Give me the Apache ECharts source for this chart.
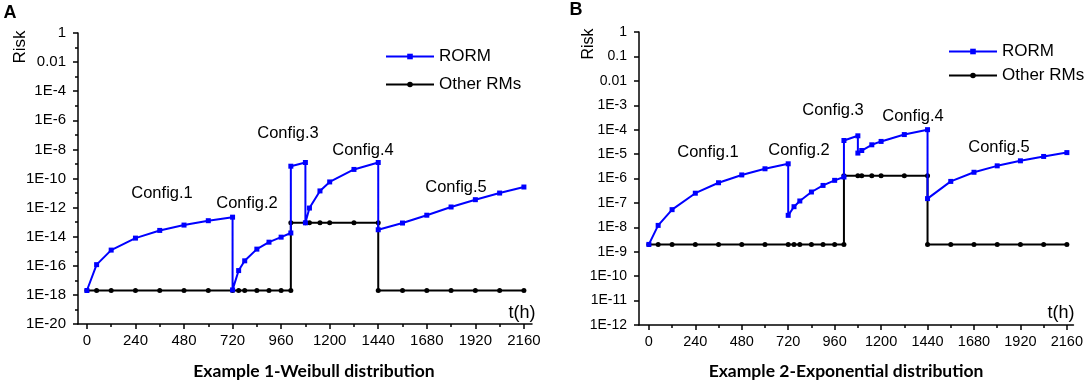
<!DOCTYPE html>
<html>
<head>
<meta charset="utf-8">
<script src="https://cdn.jsdelivr.net/npm/echarts@6/dist/echarts.min.js"></script>
<style>
  html, body { margin: 0; padding: 0; background: #fff; }
  #chart { width: 1086px; height: 382px; }
</style>
</head>
<body>
<div id="chart"></div>
<script>
// time points (h); a repeated hour is a jump between configurations
const hoursRorm = [0, 48, 120, 240, 360, 480, 600, 720,
  720, 750, 780, 840, 900, 960, 1008,
  1008, 1080,
  1080, 1100, 1152, 1200, 1320, 1440,
  1440, 1560, 1680, 1800, 1920, 2040, 2160];
const hoursOther = [0, 48, 120, 240, 360, 480, 600, 720, 750, 780, 840, 900, 960, 1008,
  1008, 1080, 1100, 1152, 1200, 1320, 1440,
  1440, 1560, 1680, 1800, 1920, 2040, 2160];

// Example 1 - Weibull
const rormA = [2e-18, 1.2e-16, 1.2e-15, 8e-15, 2.7e-14, 6.3e-14, 1.26e-13, 2.2e-13,
  2.2e-18, 4.7e-17, 2.2e-16, 1.4e-15, 4.2e-15, 9.3e-15, 1.8e-14,
  7e-10, 1.26e-9,
  9e-14, 9.3e-13, 1.4e-11, 5.8e-11, 4.2e-10, 1.26e-9,
  3e-14, 8.7e-14, 3e-13, 1.1e-12, 3.5e-12, 1e-11, 2.6e-11];
const otherA = [2e-18, 2e-18, 2e-18, 2e-18, 2e-18, 2e-18, 2e-18, 2e-18, 2e-18, 2e-18, 2e-18, 2e-18, 2e-18, 2e-18,
  9e-14, 9e-14, 9e-14, 9e-14, 9e-14, 9e-14, 9e-14,
  2e-18, 2e-18, 2e-18, 2e-18, 2e-18, 2e-18, 2e-18];

// Example 2 - Exponential
const rormB = [2e-9, 1.2e-8, 5.3e-8, 2.5e-7, 6.7e-7, 1.4e-6, 2.5e-6, 4e-6,
  3.1e-8, 7e-8, 1.2e-7, 2.8e-7, 5.2e-7, 8.4e-7, 1.15e-6,
  3.6e-5, 5.6e-5,
  1.1e-5, 1.4e-5, 2.4e-5, 3.3e-5, 6.3e-5, 1e-4,
  1.5e-7, 7.6e-7, 1.8e-6, 3.3e-6, 5.3e-6, 8e-6, 1.15e-5];
const otherB = [2e-9, 2e-9, 2e-9, 2e-9, 2e-9, 2e-9, 2e-9, 2e-9, 2e-9, 2e-9, 2e-9, 2e-9, 2e-9, 2e-9,
  1.3e-6, 1.3e-6, 1.3e-6, 1.3e-6, 1.3e-6, 1.3e-6, 1.3e-6,
  2e-9, 2e-9, 2e-9, 2e-9, 2e-9, 2e-9, 2e-9];

const xTicks = [0, 240, 480, 720, 960, 1200, 1440, 1680, 1920, 2160];
const xMinorTicks = [120, 360, 600, 840, 1080, 1320, 1560, 1800, 2040];
const configNames = ['Config.1', 'Config.2', 'Config.3', 'Config.4', 'Config.5'];

const FONT = '"Liberation Sans", Arial, sans-serif';
const BLACK = '#000000';
const BLUE = '#0000ff';

// risk shown on a log10 scale
function toPoints(xs, ys) {
  return xs.map((x, i) => [x, Math.log10(ys[i])]);
}
function riskLabel(v) {
  const e = Math.round(v);
  if (e === 0) return '1';
  if (e === -1) return '0.1';
  if (e === -2) return '0.01';
  return '1E' + e;
}

function xAxisFor(grid, min, max, size, h) {
  return [{
    gridIndex: grid, type: 'value', min: min, max: max, position: 'bottom',
    axisLine: {show: true, onZero: false, lineStyle: {color: BLACK, width: 1.5}},
    axisTick: {show: true, customValues: xTicks, length: 5, lineStyle: {color: BLACK, width: 1.5}},
    axisLabel: {customValues: xTicks, margin: 9, color: BLACK, fontSize: size, fontFamily: FONT,
      formatter: v => String(v)},
    splitLine: {show: false}
  }, {
    // minor ticks only: a top axis pushed down onto the bottom edge
    gridIndex: grid, type: 'value', min: min, max: max, position: 'top', offset: -h,
    axisLine: {show: false},
    axisTick: {show: true, inside: true, customValues: xMinorTicks, length: 3, lineStyle: {color: BLACK, width: 1.5}},
    axisLabel: {show: false},
    splitLine: {show: false}
  }];
}

function yAxisFor(grid, min, step, size, minor) {
  return {
    gridIndex: grid, type: 'value', min: min, max: 0, interval: step,
    axisLine: {show: true, onZero: false, lineStyle: {color: BLACK, width: 1.5}},
    axisTick: {show: true, length: 5, lineStyle: {color: BLACK, width: 1.5}},
    minorTick: {show: minor, splitNumber: 2, length: 3, lineStyle: {color: BLACK, width: 1.5}},
    axisLabel: {formatter: riskLabel, margin: 12, color: BLACK, fontSize: size, fontFamily: FONT},
    splitLine: {show: false}
  };
}

function lineSeries(name, grid, xs, ys) {
  const rorm = name === 'RORM';
  return {
    name: name, type: 'line',
    xAxisIndex: grid * 2, yAxisIndex: grid,
    data: toPoints(xs, ys),
    symbol: rorm ? 'rect' : 'circle',
    symbolSize: 5,
    color: rorm ? BLUE : BLACK,
    lineStyle: {width: 2, color: rorm ? BLUE : BLACK},
    itemStyle: {color: rorm ? BLUE : BLACK},
    z: rorm ? 3 : 2
  };
}

function text(str, x, y, font, opts) {
  return Object.assign({
    type: 'text', x: x, y: y, silent: true,
    style: {text: str, x: 0, y: 0, fill: BLACK, font: font, align: 'center', verticalAlign: 'middle'}
  }, opts || {});
}

const chart = echarts.init(document.getElementById('chart'), null, {renderer: 'canvas'});

const configPosA = [[162, 193], [247, 203], [288, 133], [363, 150], [456, 187]];
const configPosB = [[708, 152], [799, 150], [833, 110], [913, 116], [999, 147]];

const graphics = [
  text('A', 10, 13, 'bold 18px ' + FONT),
  text('B', 576, 10, 'bold 18px ' + FONT),
  text('Risk', 20, 47, '17px ' + FONT, {rotation: Math.PI / 2}),
  text('Risk', 589, 44, '16px ' + FONT, {rotation: Math.PI / 2}),
  text('t(h)', 522, 313, '18px ' + FONT),
  text('t(h)', 1061, 313, '18px ' + FONT),
  text('Example 1-Weibull distribution', 314, 371, 'bold 17.5px Lato, sans-serif'),
  text('Example 2-Exponential distribution', 846, 371, 'bold 17.5px Lato, sans-serif')
];
configNames.forEach((n, i) => {
  graphics.push(text(n, configPosA[i][0], configPosA[i][1], '16.5px ' + FONT));
  graphics.push(text(n, configPosB[i][0], configPosB[i][1], '16.5px ' + FONT));
});

const legendBase = {
  data: ['RORM', 'Other RMs'], orient: 'vertical',
  itemWidth: 48, itemHeight: 7,
  textStyle: {fontSize: 17, color: BLACK, fontFamily: FONT},
  selectedMode: false
};

chart.setOption({
  animation: false,
  backgroundColor: '#ffffff',
  grid: [
    {left: 78, top: 33, width: 454, height: 291},
    {left: 639, top: 32, width: 436, height: 293}
  ],
  xAxis: xAxisFor(0, -44, 2200, 15, 291).concat(xAxisFor(1, -51, 2194, 14.5, 293)),
  yAxis: [
    yAxisFor(0, -20, 2, 15, true),
    yAxisFor(1, -12, 1, 14, false)
  ],
  legend: [
    Object.assign({left: 380, top: 43, itemGap: 11}, legendBase),
    Object.assign({left: 943, top: 38, itemGap: 7}, legendBase)
  ],
  series: [
    lineSeries('Other RMs', 0, hoursOther, otherA),
    lineSeries('RORM', 0, hoursRorm, rormA),
    lineSeries('Other RMs', 1, hoursOther, otherB),
    lineSeries('RORM', 1, hoursRorm, rormB)
  ],
  graphic: graphics
});
</script>
</body>
</html>
